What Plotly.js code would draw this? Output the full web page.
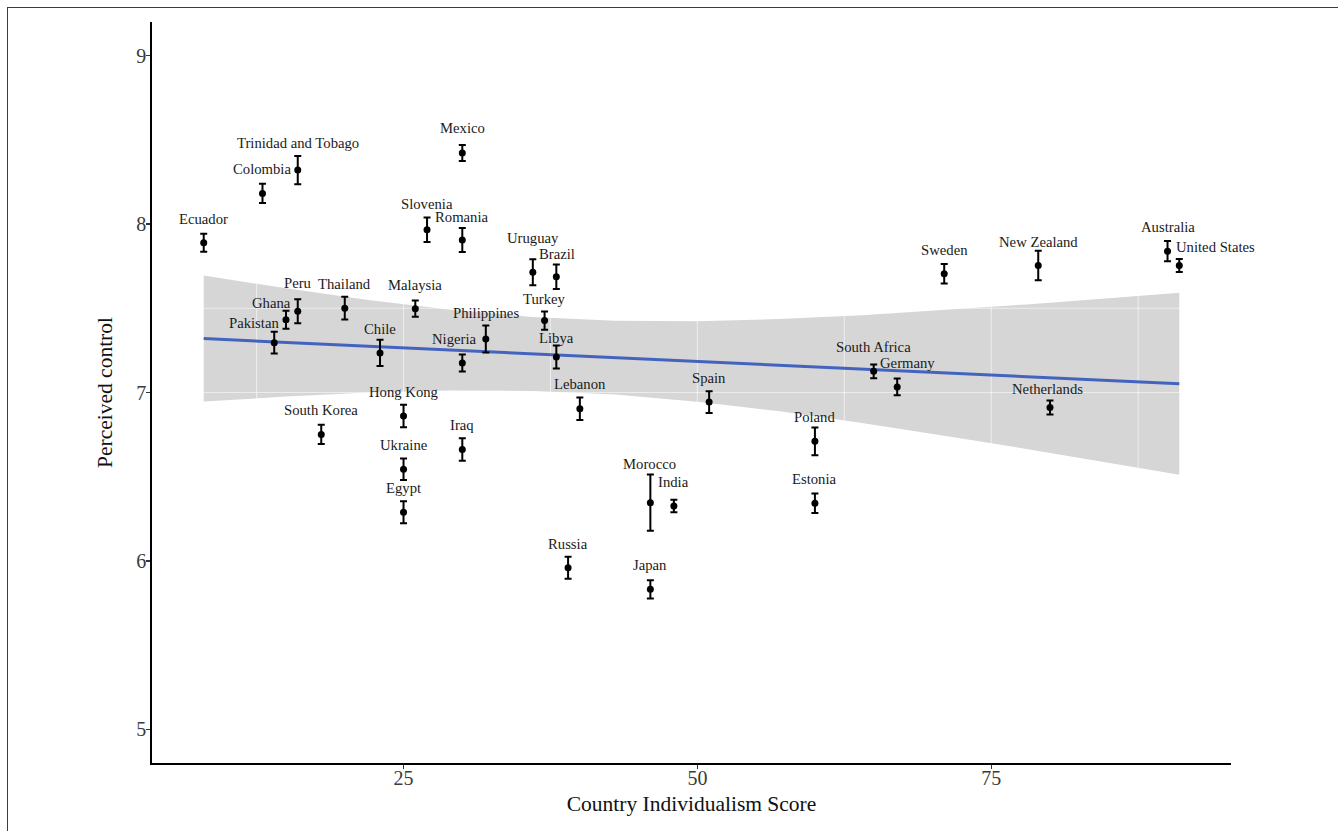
<!DOCTYPE html>
<html>
<head>
<meta charset="utf-8">
<script src="https://cdn.plot.ly/plotly-3.0.1.min.js"></script>
<style>
  html, body { margin: 0; padding: 0; background: #ffffff; overflow: hidden; }
  #wrap { position: relative; width: 1338px; height: 831px; }
  #chart { position: absolute; left: 0; top: 0; width: 1338px; height: 831px; }
  #frame { position: absolute; left: 7px; top: 7px; width: 1331px; height: 824px;
           border-left: 1px solid #3c3c3c; border-top: 1px solid #3c3c3c; pointer-events: none; box-sizing: border-box; }
</style>
</head>
<body>
<div id="wrap">
  <div id="chart"></div>
  <div id="frame"></div>
</div>
<script>
// ---- data ----
const countries = ["Ecuador","Colombia","Trinidad and Tobago","Mexico","Slovenia","Romania","Uruguay","Brazil",
  "Pakistan","Ghana","Peru","Thailand","Malaysia","Chile","Philippines","Nigeria","Turkey","Libya",
  "Lebanon","Spain","Hong Kong","South Korea","Iraq","Ukraine","Egypt","Morocco","India","Russia","Japan",
  "Poland","Estonia","South Africa","Germany","Netherlands","Sweden","New Zealand","Australia","United States"];
const individualism = [8,13,16,30,27,30,36,38,
  14,15,16,20,26,23,32,30,37,38,
  40,51,25,18,30,25,25,46,48,39,46,
  60,60,65,67,80,71,79,90,91];
const perceivedControl = [7.889,8.182,8.321,8.422,7.966,7.906,7.714,7.687,
  7.296,7.432,7.482,7.501,7.498,7.235,7.318,7.175,7.427,7.211,
  6.903,6.943,6.861,6.751,6.662,6.544,6.289,6.346,6.326,5.959,5.831,
  6.710,6.342,7.126,7.033,6.911,7.705,7.754,7.839,7.754];
const errorHalf = [0.053,0.057,0.084,0.047,0.073,0.071,0.077,0.073,
  0.064,0.053,0.071,0.068,0.048,0.078,0.080,0.050,0.054,0.068,
  0.067,0.064,0.067,0.057,0.067,0.064,0.065,0.167,0.037,0.065,0.054,
  0.082,0.058,0.041,0.050,0.041,0.058,0.087,0.060,0.038];

// fitted line and its confidence band
const fitX = [8, 91];
const fitY = [7.320, 7.052];
const bandX = [8,15,22,29,36,43,50,57,64,71,78,85,91];
const bandUpper = [7.694,7.619,7.550,7.492,7.449,7.426,7.423,7.436,7.459,7.489,7.523,7.560,7.593];
const bandLower = [6.946,6.976,7.000,7.012,7.009,6.988,6.945,6.888,6.819,6.743,6.665,6.582,6.511];

// axis ticks
const xTicks = [25, 50, 75];
const yTicks = [5, 6, 7, 8, 9];

// ---- presentation ----
const xRange = [3.6, 95.4];
const yRange = [4.8, 9.2];
// label offsets in pixels [dx, dyUp]
const labelShift = {
  "Trinidad and Tobago":[0,27], "Peru":[0,28], "Slovenia":[0,26], "Uruguay":[0,34.5], "Morocco":[-1,38.5],
  "Romania":[0,22.5], "Ghana":[-14,16.5], "Pakistan":[-20.5,19.5], "Nigeria":[-7.5,24.5], "Libya":[0,18.5],
  "Brazil":[1,22.5], "Turkey":[0,21.5], "United States":[36,19], "Germany":[10.5,24], "Netherlands":[-2,18],
  "Philippines":[0,25.5], "Mexico":[0,25], "Lebanon":[0,24.5]
};
const defaultShift = [0, 24];

const serif = "Liberation Serif, Times New Roman, serif";

// gridlines (drawn as a trace above the band, as in the reference)
const minorStepX = (xTicks[1] - xTicks[0]) / 2;
const minorStepY = (yTicks[1] - yTicks[0]) / 2;
const gx = [], gy = [];
for (let v = xTicks[0] - minorStepX; v <= xRange[1]; v += minorStepX) {
  if (v < xRange[0]) continue;
  gx.push(v, v, null); gy.push(yRange[0], yRange[1], null);
}
for (let v = yTicks[0]; v <= yRange[1]; v += minorStepY) {
  gx.push(xRange[0], xRange[1], null); gy.push(v, v, null);
}

const band = {
  x: bandX.concat(bandX.slice().reverse()),
  y: bandUpper.concat(bandLower.slice().reverse()),
  type: "scatter", mode: "lines", fill: "toself",
  fillcolor: "#d6d6d6", line: {width: 0, color: "rgba(0,0,0,0)"},
  hoverinfo: "skip", showlegend: false
};
const grid = {
  x: gx, y: gy, type: "scatter", mode: "lines",
  line: {color: "rgba(255,255,255,0.55)", width: 1.1},
  hoverinfo: "skip", showlegend: false
};
const fit = {
  x: fitX, y: fitY, type: "scatter", mode: "lines",
  line: {color: "#4363BF", width: 3}, hoverinfo: "skip", showlegend: false
};
const pts = {
  x: individualism, y: perceivedControl, text: countries,
  type: "scatter", mode: "markers",
  marker: {color: "#000000", size: 7},
  error_y: {type: "data", array: errorHalf, visible: true, color: "#000000", thickness: 2, width: 3.5},
  showlegend: false
};

const annotations = countries.map((c, i) => {
  const s = labelShift[c] || defaultShift;
  return {
    x: individualism[i], y: perceivedControl[i], xref: "x", yref: "y",
    text: c, showarrow: false, xshift: s[0], yshift: s[1],
    xanchor: "center", yanchor: "middle",
    font: {family: serif, size: 14.7, color: "#1a1a1a"}
  };
});

const layout = {
  width: 1338, height: 831,
  margin: {l: 152, r: 107, t: 22, b: 68, pad: 0},
  paper_bgcolor: "#ffffff", plot_bgcolor: "#ffffff",
  showlegend: false,
  xaxis: {
    range: xRange, tickvals: xTicks, ticktext: xTicks.map(String),
    showgrid: false, zeroline: false, showline: true, linecolor: "#000000", linewidth: 1.8,
    ticks: "outside", ticklen: 4, tickwidth: 1.4, tickcolor: "#333333",
    ticklabelstandoff: -8,
    tickfont: {family: serif, size: 20, color: "#3a3a3a"},
    title: {text: "Country Individualism Score", font: {family: serif, size: 21.5, color: "#111111"}, standoff: 8}
  },
  yaxis: {
    range: yRange, tickvals: yTicks, ticktext: yTicks.map(String),
    showgrid: false, zeroline: false, showline: true, linecolor: "#000000", linewidth: 1.8,
    ticks: "outside", ticklen: 4, tickwidth: 1.4, tickcolor: "#333333",
    ticklabelstandoff: -4,
    tickfont: {family: serif, size: 20, color: "#3a3a3a"},
    title: {text: "Perceived control", font: {family: serif, size: 21.5, color: "#111111"}, standoff: 18}
  },
  annotations: annotations
};

Plotly.newPlot("chart", [band, grid, fit, pts], layout, {displayModeBar: false, staticPlot: true});
</script>
</body>
</html>
